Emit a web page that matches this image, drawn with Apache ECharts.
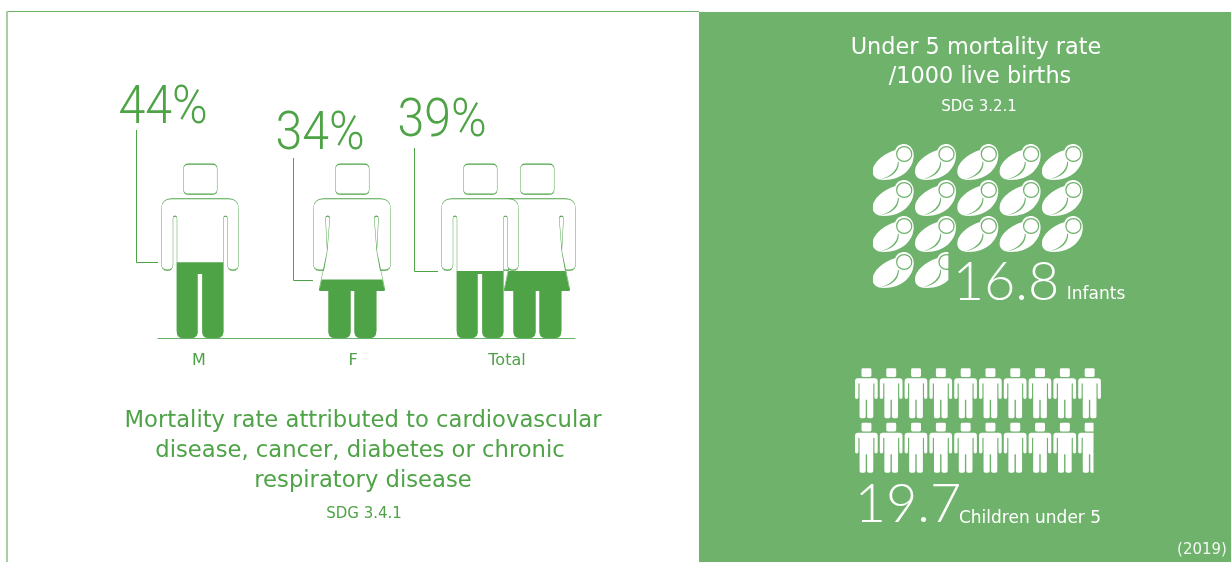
<!DOCTYPE html>
<html lang="en">
<head>
<meta charset="UTF-8">
<title>Mortality rates</title>
<script src="https://cdn.jsdelivr.net/npm/echarts@6/dist/echarts.min.js"></script>
<style>
html, body { margin: 0; padding: 0; background: #fff; }
#main { width: 1231px; height: 562px; }
</style>
</head>
<body>
<div id="main"></div>
<script>
// data
var categories = ['M', 'F', 'Total'];
var mortality = [44, 34, 39];
var infantRate = 16.8;
var infantRows = [5, 5, 5, 1.8];
var childRate = 19.7;
var childRows = [10, 9.7];
var rowNames = ['a', 'b', 'c', 'd'];

var GREEN = '#4ea346';
var PANEL = '#6eb26b';
var TEXT_FONT = '"DejaVu Sans", sans-serif';

// pictogram shapes
var head = 'M27 0H50.7Q55.7 0 55.7 5V25Q55.7 30 50.7 30H27Q22 30 22 25V5Q22 0 27 0Z';
var legs = 'V166Q62 172 56 172H47Q41 172 41 166V108H36.3V166Q36.3 172 30.3 172H21.5Q15.5 172 15.5 166';
var manPath = 'path://' + head +
    'M10 34.7H67Q77 34.7 77 44.7V100Q77 106 71.5 106Q66 106 66 100V54Q66 52 64 52Q62 52 62 54' + legs +
    'V54Q15.5 52 13.5 52Q11.5 52 11.5 54V100Q11.5 106 6 106Q0 106 0 100V44.7Q0 34.7 10 34.7Z';
var manFill = 'path://M15.5 0H62' + legs + 'Z';
var womanPath = 'path://' + head +
    'M10 34.7H67Q77 34.7 77 44.7V100Q77 106 71 106H66.7L63.3 87L65 54Q65 52 63 52Q61 52 60.7 54L63.3 87L71.3 125H62.7' +
    'V166Q62.7 172 56.7 172H47Q41 172 41 166V125H37V166Q37 172 31 172H21Q15 172 15 166V125H5.7L13.7 87L16.3 54' +
    'Q16 52 14 52Q12 52 12 54L13.7 87L10.3 106H6Q0 106 0 100V44.7Q0 34.7 10 34.7Z';
var womanFill = 'path://M16.3 0H60.7V52L63.3 87L71.3 125H62.7V166Q62.7 172 56.7 172H47Q41 172 41 166V125H37V166Q37 172 31 172H21Q15 172 15 166V125H5.7L13.7 87L16.3 52Z';
var babyPath = 'path://M1 26C1 20 10 10 23 6C24 2 28 0 31.7 0C37 0 41 5 41 11C41 24 30 36 12 36C4 36 0 32 1 26Z' +
    'M23.7 10A8 8 0 1 0 39.7 10A8 8 0 1 0 23.7 10Z' +
    'M24.9 10A6.8 6.8 0 1 1 38.5 10A6.8 6.8 0 1 1 24.9 10Z' +
    'M9 35C17 34 27 29 26.4 18L25.6 17.6C25.4 27 17 33 9 35Z';

var chart = echarts.init(document.getElementById('main'));

function oneItem(v, dx) {
    return { value: v, symbolOffset: [dx, 0] };
}

function hiddenValue(grid, max) {
    return { type: 'value', gridIndex: grid, min: 0, max: max, show: false };
}

function hiddenCategory(grid, names, inverse) {
    return { type: 'category', gridIndex: grid, data: names, inverse: inverse, show: false };
}

function text(str, x, y, size, color, font, sx) {
    return {
        type: 'text', x: x, y: y, z: 5, scaleX: sx || 1,
        style: {
            text: str, fill: color, textAlign: 'center', textVerticalAlign: 'middle',
            font: font ? font.replace('SIZE', size + 'px') : size + 'px ' + TEXT_FONT
        }
    };
}

var option = {
    animation: false,
    backgroundColor: '#fff',
    grid: [
        { left: 122, top: 166, width: 462, height: 172 },
        { left: 158, top: 166, width: 417, height: 172 },
        { left: 872.7, top: 144, width: 210.2, height: 144 },
        { left: 855, top: 366, width: 245.9, height: 109 }
    ],
    xAxis: [
        {
            type: 'category', gridIndex: 0, data: categories,
            axisLine: { show: false }, axisTick: { show: false },
            axisLabel: { color: GREEN, fontSize: 16, margin: 15, fontFamily: TEXT_FONT }
        },
        {
            type: 'category', gridIndex: 1, data: categories,
            axisLine: { lineStyle: { color: '#6ab068', width: 1 } },
            axisTick: { show: false }, axisLabel: { show: false }
        },
        hiddenValue(2, 5),
        hiddenValue(3, 10)
    ],
    yAxis: [
        hiddenValue(0, 100),
        hiddenValue(1, 100),
        hiddenCategory(2, rowNames, true),
        hiddenCategory(3, rowNames.slice(0, childRows.length), true)
    ],
    series: [
        {
            type: 'pictorialBar', xAxisIndex: 0, yAxisIndex: 0, z: 2,
            symbol: womanPath, symbolSize: [77, '100%'], symbolBoundingData: 100,
            itemStyle: { color: '#fff', borderColor: GREEN, borderWidth: 2.5 },
            data: ['-', oneItem(100, -1), oneItem(100, 30)]
        },
        {
            type: 'pictorialBar', xAxisIndex: 0, yAxisIndex: 0, z: 3,
            symbol: womanFill, symbolSize: [65.6, '100%'], symbolBoundingData: 100, symbolClip: true,
            itemStyle: { color: GREEN },
            data: ['-', oneItem(mortality[1], -1), oneItem(mortality[2], 30)]
        },
        {
            type: 'pictorialBar', xAxisIndex: 0, yAxisIndex: 0, z: 4,
            symbol: manPath, symbolSize: [77, '100%'], symbolBoundingData: 100,
            itemStyle: { color: '#fff', borderColor: GREEN, borderWidth: 2.5 },
            data: [oneItem(100, 1), '-', oneItem(100, -27)]
        },
        {
            type: 'pictorialBar', xAxisIndex: 0, yAxisIndex: 0, z: 5,
            symbol: manFill, symbolSize: [46.5, '100%'], symbolBoundingData: 100, symbolClip: true,
            itemStyle: { color: GREEN },
            data: [oneItem(mortality[0], 1), '-', oneItem(mortality[2], -27)]
        },
        {
            type: 'pictorialBar', xAxisIndex: 2, yAxisIndex: 2,
            symbol: babyPath, symbolSize: [41, 36], symbolMargin: 0.65,
            symbolRepeat: 'fixed', symbolClip: true, symbolBoundingData: 5,
            itemStyle: { color: '#fff' },
            data: infantRows
        },
        {
            type: 'pictorialBar', xAxisIndex: 3, yAxisIndex: 3,
            symbol: manPath, symbolSize: [22.7, 50], symbolMargin: 1.05,
            symbolRepeat: 'fixed', symbolClip: true, symbolBoundingData: 10,
            itemStyle: { color: '#fff' },
            data: childRows
        }
    ],
    graphic: [
        { type: 'rect', z: -2, shape: { x: 699, y: 12, width: 532, height: 550 }, style: { fill: PANEL } },
        { type: 'rect', z: -1, shape: { x: 7, y: 11, width: 692, height: 1 }, style: { fill: '#6ab068' } },
        { type: 'rect', z: -1, shape: { x: 6, y: 11, width: 2, height: 551 }, style: { fill: '#a5cfa2' } },
        text(mortality[0] + '%', 163, 110, 53, GREEN, '300 SIZE Roboto', 0.91),
        text(mortality[1] + '%', 320, 136, 53, GREEN, '300 SIZE Roboto', 0.91),
        text(mortality[2] + '%', 442, 123, 53, GREEN, '300 SIZE Roboto', 0.91),
        text('Mortality rate attributed to cardiovascular', 363, 421, 22.7, GREEN),
        text('disease, cancer, diabetes or chronic', 360, 451, 22.7, GREEN),
        text('respiratory disease', 363, 481, 22.7, GREEN),
        text('SDG 3.4.1', 364, 514, 15, GREEN),
        text('Under 5 mortality rate', 976, 48, 22.4, '#fff'),
        text('/1000 live births', 980, 77, 22.4, '#fff'),
        text('SDG 3.2.1', 979, 107, 15, '#fff'),
        text(infantRate.toFixed(1), 1006, 283, 54, '#fff', '300 SIZE Lato'),
        text('Infants', 1096, 295, 17, '#fff'),
        text(childRate.toFixed(1), 908, 505, 54, '#fff', '300 SIZE Lato'),
        text('Children under 5', 1030, 519, 17, '#fff'),
        text('(2019)', 1202, 550, 15, '#f2f7f1')
    ]
};
chart.setOption(option);

// leader lines run from each % label down to the fill level of its figure
var leaders = [[136.5, 130, 158], [293.5, 158, 313], [414.5, 148, 438]];
var extra = option.graphic.slice();
leaders.forEach(function (l, i) {
    var y = Math.round(chart.convertToPixel({ yAxisIndex: 0 }, mortality[i])) + 0.5;
    extra.push({
        type: 'polyline', z: 1,
        shape: { points: [[l[0], l[1]], [l[0], y], [l[2], y]] },
        style: { stroke: GREEN, lineWidth: 1, fill: null }
    });
});
chart.setOption({ graphic: extra });
</script>
</body>
</html>
